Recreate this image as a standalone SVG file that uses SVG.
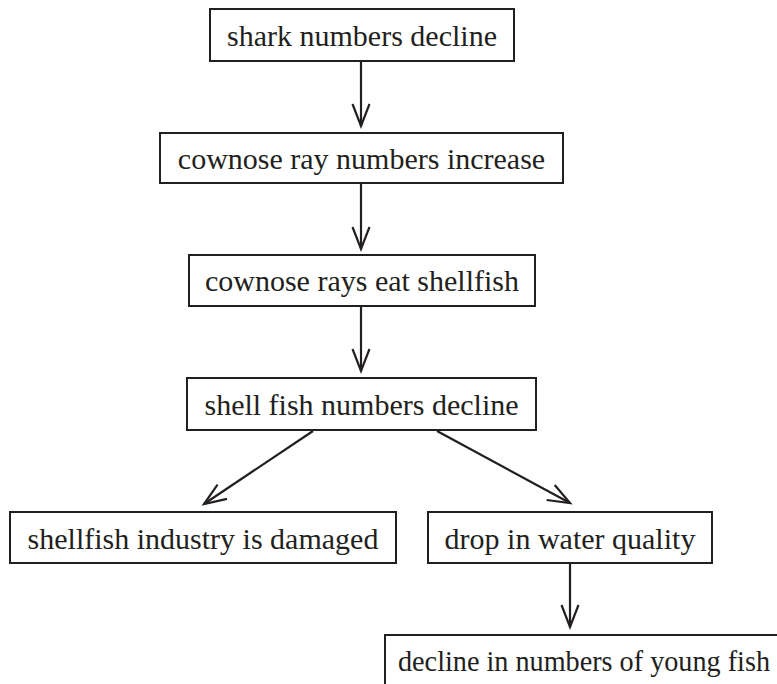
<svg xmlns="http://www.w3.org/2000/svg" width="777" height="684" viewBox="0 0 777 684">
<style>
.box{fill:#fff;stroke:#231f20;stroke-width:2}
.lbl{font-family:"Liberation Serif","Times New Roman",serif;font-size:30px;fill:#231f20;text-anchor:middle}
.conn{fill:none;stroke:#231f20;stroke-width:2.2}
</style>
<defs>
<marker id="arr" markerUnits="userSpaceOnUse" markerWidth="30" markerHeight="24" viewBox="-24 -12 30 24" refX="0" refY="0" orient="auto">
<path d="M-22 -8.5 L0 0 L-22 8.5" fill="none" stroke="#231f20" stroke-width="2.2"/>
</marker>
</defs>
<rect width="777" height="684" fill="#fff"/>
<g id="connectors">
<line class="conn" x1="361" y1="61" x2="361" y2="126" marker-end="url(#arr)"/>
<line class="conn" x1="361" y1="183" x2="361" y2="249" marker-end="url(#arr)"/>
<line class="conn" x1="361" y1="306" x2="361" y2="371" marker-end="url(#arr)"/>
<line class="conn" x1="313" y1="431" x2="204" y2="504" marker-end="url(#arr)"/>
<line class="conn" x1="437" y1="431" x2="570" y2="503" marker-end="url(#arr)"/>
<line class="conn" x1="570" y1="563" x2="570" y2="627" marker-end="url(#arr)"/>
</g>
<g id="n1"><rect class="box" x="210" y="9" width="304" height="52"/><text class="lbl" x="362" y="46">shark numbers decline</text></g>
<g id="n2"><rect class="box" x="160" y="133" width="403" height="50"/><text class="lbl" x="361.5" y="169">cownose ray numbers increase</text></g>
<g id="n3"><rect class="box" x="189" y="255" width="346" height="51"/><text class="lbl" x="362" y="291">cownose rays eat shellfish</text></g>
<g id="n4"><rect class="box" x="187" y="378" width="349" height="52"/><text class="lbl" x="361.5" y="415">shell fish numbers decline</text></g>
<g id="n5"><rect class="box" x="10" y="512" width="386" height="51"/><text class="lbl" x="203" y="549">shellfish industry is damaged</text></g>
<g id="n6"><rect class="box" x="428" y="512" width="284" height="51"/><text class="lbl" x="570" y="549">drop in water quality</text></g>
<g id="n7"><rect class="box" x="385" y="635" width="410" height="70"/><text class="lbl" x="398" y="671" style="text-anchor:start" textLength="372" lengthAdjust="spacingAndGlyphs">decline in numbers of young fish</text></g>
</svg>
